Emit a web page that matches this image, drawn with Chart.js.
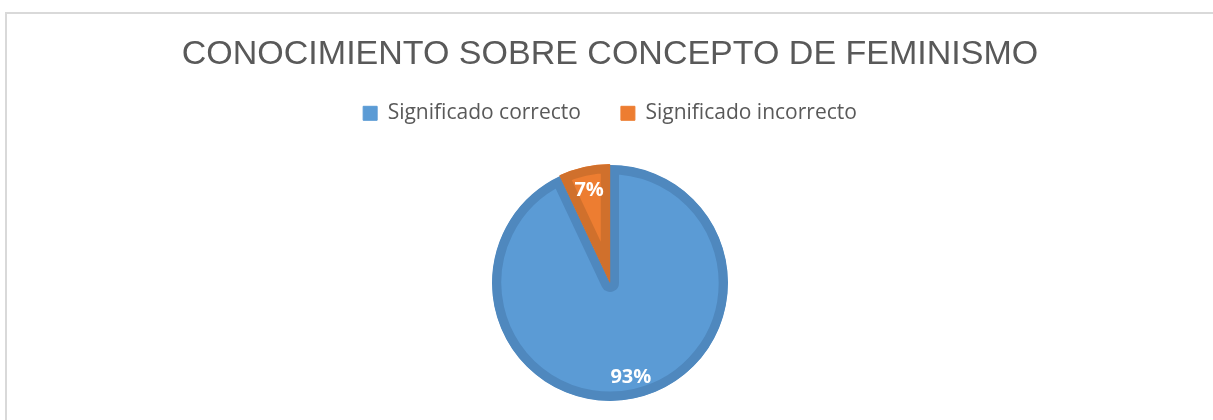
<!DOCTYPE html>
<html>
<head>
<meta charset="utf-8">
<script src="https://cdn.jsdelivr.net/npm/chart.js@4"></script>
<style>
    html, body { margin: 0; padding: 0; background: #fff; overflow: hidden; }
    .frame {
        position: absolute; left: 5px; top: 12px; width: 1300px; height: 500px;
        border-top: 2px solid #d9d9d9; border-left: 2px solid #d9d9d9;
    }
    .wrap { position: absolute; left: 0; top: 0; width: 1213px; height: 446px; }
</style>
</head>
<body>
<div class="frame"></div>
<div class="wrap"><canvas id="pieChart" width="1213" height="446"></canvas></div>
<script>
const categories = ['Significado correcto', 'Significado incorrecto'];
const percentages = [93, 7];
const fillColors = ['#5b9bd5', '#ed7d31'];
const edgeColors = ['#4f88be', '#d0702c'];

// draws the percent labels inside the slices
const sliceLabels = {
    id: 'sliceLabels',
    afterDatasetsDraw(chart) {
        const ctx = chart.ctx;
        const meta = chart.getDatasetMeta(0);
        ctx.save();
        ctx.fillStyle = '#ffffff';
        ctx.font = 'bold 20px "Open Sans"';
        ctx.textAlign = 'center';
        ctx.textBaseline = 'middle';
        meta.data.forEach((arc, i) => {
            const p = arc.getProps(['x', 'y', 'startAngle', 'endAngle', 'outerRadius'], true);
            const mid = (p.startAngle + p.endAngle) / 2;
            const r = p.outerRadius * 0.81;
            ctx.fillText(percentages[i] + '%', p.x + Math.cos(mid) * r, p.y + Math.sin(mid) * r + 1);
        });
        ctx.restore();
    }
};

const ctx = document.getElementById('pieChart').getContext('2d');
new Chart(ctx, {
    type: 'pie',
    data: {
        labels: categories,
        datasets: [{
            data: percentages,
            backgroundColor: fillColors,
            borderColor: edgeColors,
            borderWidth: 9,
            borderAlign: 'inner',
            offset: [0, 3],
            radius: 118
        }]
    },
    options: {
        responsive: false,
        animation: false,
        rotation: 0,
        layout: { padding: { left: 7, bottom: 14 } },
        plugins: {
            title: {
                display: true,
                text: 'CONOCIMIENTO SOBRE CONCEPTO DE FEMINISMO',
                color: '#595959',
                font: { family: '"Liberation Sans"', size: 34, weight: 'normal' },
                padding: { top: 34, bottom: -12 }
            },
            legend: {
                position: 'top',
                labels: {
                    color: '#595959',
                    font: { family: '"Open Sans"', size: 21 },
                    boxWidth: 14,
                    boxHeight: 14,
                    padding: 40,
                    generateLabels(chart) {
                        const items = Chart.overrides.pie.plugins.legend.labels.generateLabels(chart);
                        items.forEach((item, i) => {
                            item.lineWidth = 1;
                            item.strokeStyle = fillColors[i];
                        });
                        return items;
                    }
                }
            },
            tooltip: { enabled: false }
        }
    },
    plugins: [sliceLabels]
});
</script>
</body>
</html>
